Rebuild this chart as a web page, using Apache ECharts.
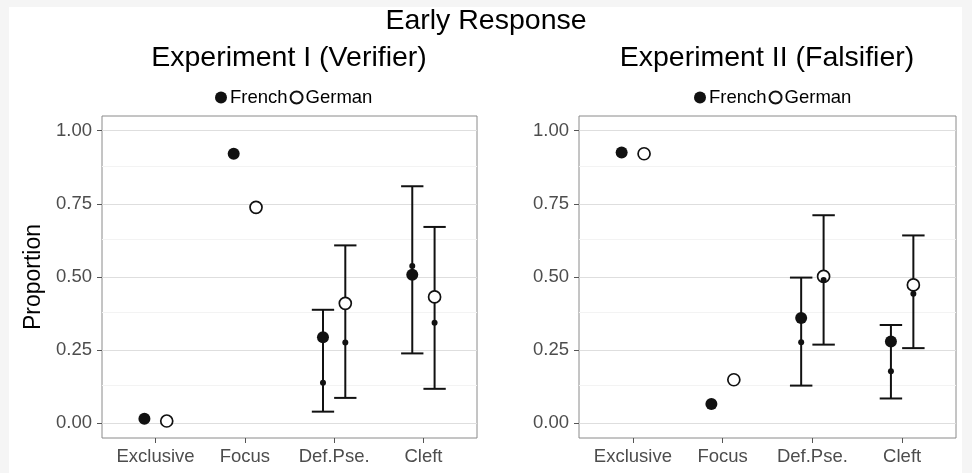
<!DOCTYPE html>
<html>
<head>
<meta charset="utf-8">
<script src="https://cdn.jsdelivr.net/npm/echarts@6/dist/echarts.min.js"></script>
<style>
html,body{margin:0;padding:0;background:#f5f5f5;}
#chart{width:972px;height:473px;}
</style>
</head>
<body>
<div id="chart"></div>
<script>
// ---- data ----
const categories = ['Exclusive', 'Focus', 'Def.Pse.', 'Cleft'];
const yTicks = [0, 0.25, 0.5, 0.75, 1];
const yMinorTicks = [0.125, 0.375, 0.625, 0.875];
const groups = ['French', 'German'];
const panelTitles = ['Experiment I (Verifier)', 'Experiment II (Falsifier)'];
const mainTitle = 'Early Response';
const yAxisTitle = 'Proportion';

// Experiment I (Verifier)
const exp1FrenchMean  = [0.016, 0.921, 0.294, 0.508];
const exp1GermanMean  = [0.008, 0.738, 0.410, 0.432];
const exp1FrenchSmall = [null, null, 0.139, 0.538];
const exp1GermanSmall = [null, null, 0.276, 0.344];
const exp1FrenchLow   = [null, null, 0.040, 0.239];
const exp1FrenchHigh  = [null, null, 0.388, 0.810];
const exp1GermanLow   = [null, null, 0.087, 0.118];
const exp1GermanHigh  = [null, null, 0.608, 0.671];

// Experiment II (Falsifier)
const exp2FrenchMean  = [0.925, 0.066, 0.360, 0.280];
const exp2GermanMean  = [0.921, 0.149, 0.502, 0.473];
const exp2FrenchSmall = [null, null, 0.277, 0.178];
const exp2GermanSmall = [null, null, 0.490, 0.443];
const exp2FrenchLow   = [null, null, 0.129, 0.085];
const exp2FrenchHigh  = [null, null, 0.498, 0.336];
const exp2GermanLow   = [null, null, 0.269, 0.257];
const exp2GermanHigh  = [null, null, 0.711, 0.642];

// ---- layout / style ----
const FONT = "'Liberation Sans', Arial, Helvetica, sans-serif";
const DODGE = 0.125;
const CAP = 0.125;
const INK = '#111111';

const panels = [
  {fm: exp1FrenchMean, gm: exp1GermanMean, fs: exp1FrenchSmall, gs: exp1GermanSmall,
   fl: exp1FrenchLow, fh: exp1FrenchHigh, gl: exp1GermanLow, gh: exp1GermanHigh},
  {fm: exp2FrenchMean, gm: exp2GermanMean, fs: exp2FrenchSmall, gs: exp2GermanSmall,
   fl: exp2FrenchLow, fh: exp2FrenchHigh, gl: exp2GermanLow, gh: exp2GermanHigh}
];
const gridPos = [
  {left: 102, top: 116, width: 375, height: 322},
  {left: 579, top: 116, width: 377, height: 322}
];
const legendLeft = [210, 689];

function pts(vals, off) {
  const out = [];
  vals.forEach((v, i) => { if (v !== null) out.push([i + 1 + off, v]); });
  return out;
}
function bars(lo, hi, off) {
  const out = [];
  lo.forEach((v, i) => { if (v !== null && hi[i] !== null) out.push([i + 1 + off, v, hi[i]]); });
  return out;
}

const grids = [], xAxes = [], yAxes = [], series = [], legends = [];

panels.forEach((p, k) => {
  grids.push(Object.assign({show: true, borderColor: '#8a8a8a', borderWidth: 1, backgroundColor: '#fff'}, gridPos[k]));
  xAxes.push({
    type: 'value', gridIndex: k, min: 0.4, max: 4.6,
    axisLine: {show: false, onZero: false},
    splitLine: {show: false},
    axisTick: {show: true, length: 5, inside: false, customValues: [1, 2, 3, 4], lineStyle: {color: '#555', width: 1}},
    axisLabel: {show: true, customValues: [1, 2, 3, 4], margin: 9,
      formatter: v => categories[Math.round(v) - 1] || '',
      color: '#4d4d4d', fontSize: 18.5, fontFamily: FONT}
  });
  yAxes.push({
    type: 'value', gridIndex: k, min: -0.05, max: 1.05,
    axisLine: {show: false, onZero: false},
    splitLine: {show: false},
    axisTick: {show: true, length: 5, customValues: yTicks, lineStyle: {color: '#555', width: 1}},
    axisLabel: {show: true, customValues: yTicks, margin: 10,
      formatter: v => Number(v).toFixed(2),
      color: '#4d4d4d', fontSize: 18.5, fontFamily: FONT},
    name: k === 0 ? yAxisTitle : '',
    nameLocation: 'middle', nameGap: 57,
    nameTextStyle: {color: '#000', fontSize: 23, fontFamily: FONT}
  });
  // grid lines
  series.push({
    type: 'line', xAxisIndex: k, yAxisIndex: k, data: [], silent: true, z: 1,
    markLine: {
      z: 1, silent: true, symbol: ['none', 'none'], label: {show: false}, animation: false,
      data: yMinorTicks.map(v => ({yAxis: v, lineStyle: {color: '#f3f3f3', width: 1, type: 'solid'}}))
        .concat(yTicks.map(v => ({yAxis: v, lineStyle: {color: '#dedede', width: 1, type: 'solid'}})))
    }
  });
  // error bars
  series.push({
    type: 'custom', name: 'err' + k, xAxisIndex: k, yAxisIndex: k, z: 3, silent: true,
    data: bars(p.fl, p.fh, -DODGE).concat(bars(p.gl, p.gh, DODGE)),
    encode: {x: 0, y: [1, 2]},
    renderItem: (params, api) => {
      const x = api.value(0), lo = api.value(1), hi = api.value(2);
      const a = api.coord([x, lo]), b = api.coord([x, hi]);
      const l1 = api.coord([x - CAP, lo]), r1 = api.coord([x + CAP, lo]);
      const l2 = api.coord([x - CAP, hi]), r2 = api.coord([x + CAP, hi]);
      const st = {stroke: INK, lineWidth: 2};
      return {type: 'group', children: [
        {type: 'line', shape: {x1: a[0], y1: a[1], x2: b[0], y2: b[1]}, style: st},
        {type: 'line', shape: {x1: l1[0], y1: l1[1], x2: r1[0], y2: r1[1]}, style: st},
        {type: 'line', shape: {x1: l2[0], y1: l2[1], x2: r2[0], y2: r2[1]}, style: st}
      ]};
    }
  });
  series.push({
    type: 'scatter', name: groups[0], xAxisIndex: k, yAxisIndex: k, z: 4,
    symbol: 'circle', symbolSize: 12,
    itemStyle: {color: INK, opacity: 1},
    data: pts(p.fm, -DODGE)
  });
  series.push({
    type: 'scatter', name: groups[1], xAxisIndex: k, yAxisIndex: k, z: 4,
    symbol: 'circle', symbolSize: 12,
    itemStyle: {color: '#ffffff', borderColor: INK, borderWidth: 1.7, opacity: 1},
    data: pts(p.gm, DODGE)
  });
  series.push({
    type: 'scatter', name: 'small' + k, xAxisIndex: k, yAxisIndex: k, z: 5,
    symbol: 'circle', symbolSize: 6,
    itemStyle: {color: INK, opacity: 1},
    data: pts(p.fs, -DODGE).concat(pts(p.gs, DODGE))
  });
  legends.push({
    data: groups, left: legendLeft[k], top: 83, orient: 'horizontal',
    itemWidth: 12, itemHeight: 12, itemGap: 2, selectedMode: false,
    textStyle: {color: '#000', fontSize: 18.5, fontFamily: FONT, padding: [0, 0, 0, -2]}
  });
});

const chart = echarts.init(document.getElementById('chart'), null, {renderer: 'canvas'});
chart.setOption({
  backgroundColor: '#f5f5f5',
  animation: false,
  graphic: [
    {type: 'rect', z: -10, silent: true, shape: {x: 9, y: 7, width: 953, height: 466}, style: {fill: '#ffffff'}},
    {type: 'text', silent: true, x: 486, y: 21, style: {text: mainTitle, fill: '#000', font: '28.5px ' + FONT, align: 'center', verticalAlign: 'middle'}},
    {type: 'text', silent: true, x: 289, y: 58, style: {text: panelTitles[0], fill: '#000', font: '28.5px ' + FONT, align: 'center', verticalAlign: 'middle'}},
    {type: 'text', silent: true, x: 767, y: 58, style: {text: panelTitles[1], fill: '#000', font: '28.5px ' + FONT, align: 'center', verticalAlign: 'middle'}}
  ],
  legend: legends,
  grid: grids,
  xAxis: xAxes,
  yAxis: yAxes,
  series: series
});
</script>
</body>
</html>
